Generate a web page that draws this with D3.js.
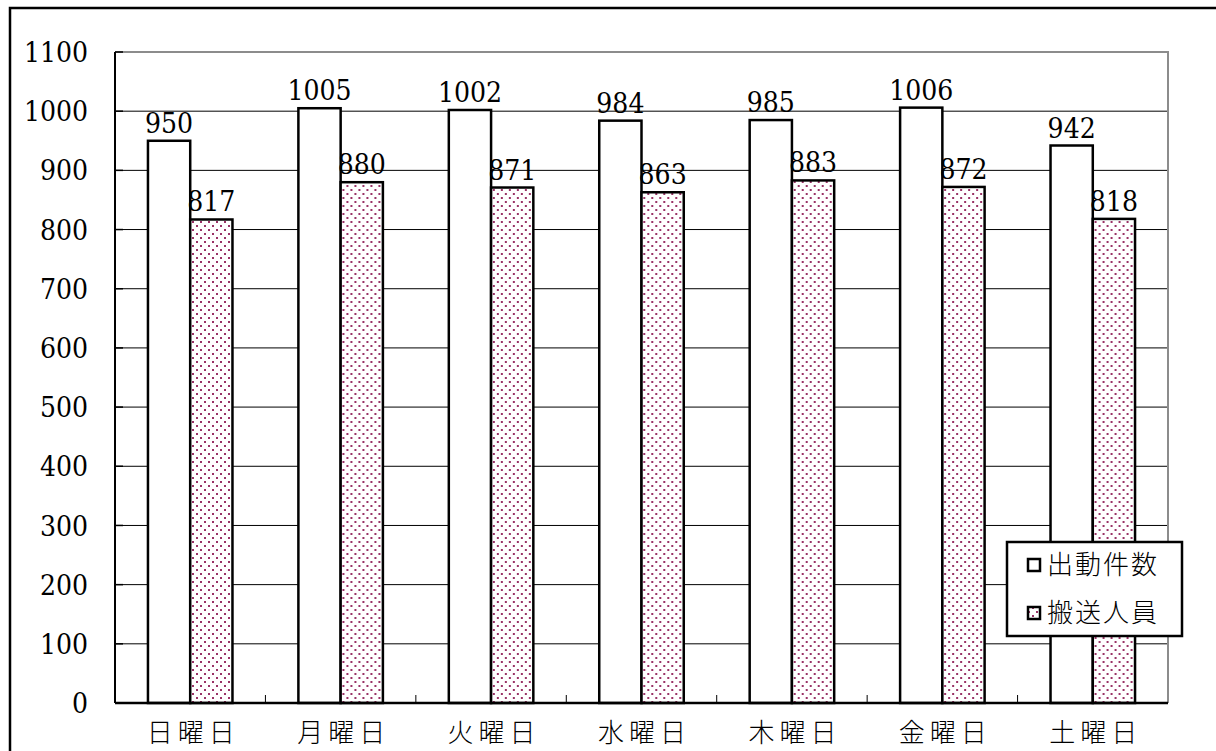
<!DOCTYPE html>
<html><head><meta charset="utf-8">
<script src="https://cdn.jsdelivr.net/npm/d3@7"></script>
<style>body{margin:0;background:#fff}svg{display:block}</style>
</head><body>
<script>
const categories = ["日曜日","月曜日","火曜日","水曜日","木曜日","金曜日","土曜日"];
const seriesNames = ["出動件数","搬送人員"];
const dispatches = [950,1005,1002,984,985,1006,942];
const transported = [817,880,871,863,883,872,818];
const yTicks = [0,100,200,300,400,500,600,700,800,900,1000,1100];

const W=1216,H=751;
const m={left:115,right:1168,top:52,bottom:703};
const svg=d3.select("body").append("svg").attr("width",W).attr("height",H);
const defs=svg.append("defs");
const pat=defs.append("pattern").attr("id","dots").attr("patternUnits","userSpaceOnUse")
  .attr("width",8).attr("height",8);
pat.append("rect").attr("width",8).attr("height",8).attr("fill","#fff");
pat.append("rect").attr("x",1).attr("y",1).attr("width",2).attr("height",2).attr("fill","#993366");
pat.append("rect").attr("x",5).attr("y",5).attr("width",2).attr("height",2).attr("fill","#993366");

const numFont='"DejaVu Serif Condensed","DejaVu Serif",serif';
const jpFont='"Noto Sans CJK JP",serif';

// outer frame
svg.append("rect").attr("x",10).attr("y",8).attr("width",W+20).attr("height",H+20)
  .attr("fill","none").attr("stroke","#000").attr("stroke-width",2.5);

const x=d3.scaleBand().domain(categories).range([m.left,m.right]);
const y=d3.scaleLinear().domain([0,1100]).range([m.bottom,m.top]);
const inner=d3.scaleBand().domain(seriesNames).range([0,x.bandwidth()]).paddingInner(0).paddingOuter(0.78);

// gridlines
svg.append("g").selectAll("line").data(yTicks.filter(t=>t>0&&t<1100)).join("line")
  .attr("x1",m.left).attr("x2",m.right).attr("y1",d=>y(d)).attr("y2",d=>y(d))
  .attr("stroke","#000").attr("stroke-width",1);
// top & right border (gray)
svg.append("path").attr("d",`M${m.left},${y(1100)}H${m.right}V${m.bottom}`)
  .attr("fill","none").attr("stroke","#8c8c8c").attr("stroke-width",2);

// y axis labels
svg.append("g").selectAll("text").data(yTicks).join("text")
  .attr("x",88).attr("y",d=>y(d)).attr("dy","0.36em").attr("text-anchor","end")
  .attr("font-family",numFont).attr("font-stretch","condensed").attr("font-size",28).text(d=>d);

// bars
const data=categories.map((c,i)=>({c,vals:[{s:seriesNames[0],v:dispatches[i]},{s:seriesNames[1],v:transported[i]}]}));
const g=svg.append("g").selectAll("g").data(data).join("g").attr("transform",d=>`translate(${x(d.c)},0)`);
g.selectAll("rect").data(d=>d.vals).join("rect")
  .attr("x",d=>inner(d.s)).attr("width",inner.bandwidth())
  .attr("y",d=>y(d.v)).attr("height",d=>y(0)-y(d.v))
  .attr("fill",(d,i)=>i===0?"#fff":"url(#dots)").attr("stroke","#000").attr("stroke-width",2.5);
g.selectAll("text").data(d=>d.vals).join("text")
  .attr("x",d=>inner(d.s)+inner.bandwidth()/2).attr("y",d=>y(d.v)-8)
  .attr("text-anchor","middle").attr("font-family",numFont).attr("font-stretch","condensed").attr("font-size",28).text(d=>d.v);

// axes lines
svg.append("line").attr("x1",m.left).attr("x2",m.left).attr("y1",m.top).attr("y2",m.bottom).attr("stroke","#000").attr("stroke-width",2);
svg.append("line").attr("x1",m.left).attr("x2",m.right).attr("y1",m.bottom).attr("y2",m.bottom).attr("stroke","#000").attr("stroke-width",2.5);
// y ticks
svg.append("g").selectAll("line").data(yTicks).join("line")
  .attr("x1",m.left).attr("x2",m.left+8).attr("y1",d=>y(d)).attr("y2",d=>y(d)).attr("stroke","#000").attr("stroke-width",1.5);
// category boundary ticks
svg.append("g").selectAll("line").data(categories.slice(1)).join("line")
  .attr("x1",d=>x(d)).attr("x2",d=>x(d)).attr("y1",m.bottom).attr("y2",m.bottom-8).attr("stroke","#000").attr("stroke-width",1);

// category labels
svg.append("g").selectAll("text").data(categories).join("text")
  .attr("x",d=>x(d)+x.bandwidth()/2+3).attr("y",733).attr("dy","0.35em").attr("text-anchor","middle")
  .attr("font-family",jpFont).attr("font-size",26).attr("font-weight",300).attr("letter-spacing",5).text(d=>d);

// legend
const lg=svg.append("g").attr("transform","translate(1007,542)");
lg.append("rect").attr("width",175).attr("height",94).attr("fill","#fff").attr("stroke","#000").attr("stroke-width",2.5);
seriesNames.forEach((s,i)=>{
  const cy=23+i*48;
  lg.append("rect").attr("x",21).attr("y",cy-6).attr("width",12).attr("height",12)
    .attr("fill",i===0?"#fff":"url(#dots)").attr("stroke","#000").attr("stroke-width",2.5);
  lg.append("text").attr("x",40).attr("y",cy).attr("dy","0.35em").attr("font-family",jpFont)
    .attr("font-size",26).attr("font-weight",300).attr("letter-spacing",2).text(s);
});
</script>
</body></html>
